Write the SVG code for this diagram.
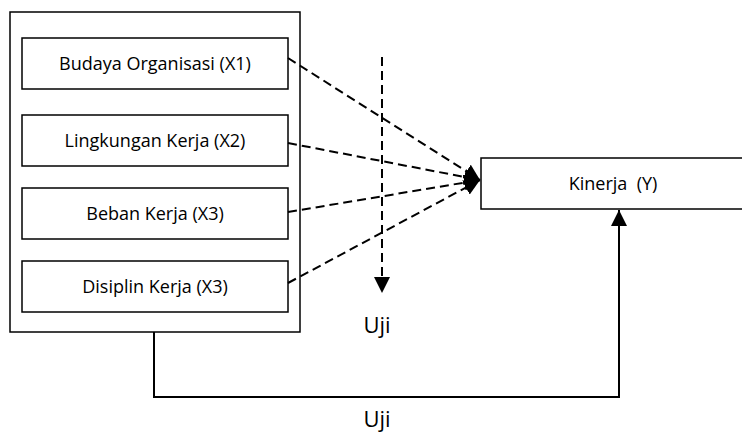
<svg xmlns="http://www.w3.org/2000/svg" width="742" height="433" viewBox="0 0 742 433">
<style>
.box{fill:#fff;stroke:#000;stroke-width:1.5}
.lbl{font-family:"Open Sans","Noto Sans",sans-serif;font-size:18px;fill:#000;text-anchor:middle}
.uji{font-family:"Open Sans","Noto Sans",sans-serif;font-size:22px;fill:#000;text-anchor:middle}
.dash{fill:none;stroke:#000;stroke-width:2;stroke-dasharray:9,5}
.solid{fill:none;stroke:#000;stroke-width:2}
</style>
<defs>
<marker id="ahb" viewBox="0 0 10 10" refX="10" refY="5" markerWidth="8" markerHeight="8" orient="auto">
<path d="M0,0 L10,5 L0,10 Z" fill="#000"/>
</marker>
</defs>
<g id="group-x">
<rect class="box" x="10" y="12" width="290" height="320"/>
</g>
<g id="node-x1">
<rect class="box" x="22" y="38" width="266" height="51"/>
<text class="lbl" x="155" y="70">Budaya Organisasi (X1)</text>
</g>
<g id="node-x2">
<rect class="box" x="22" y="115" width="266" height="51"/>
<text class="lbl" x="155" y="147">Lingkungan Kerja (X2)</text>
</g>
<g id="node-x3">
<rect class="box" x="22" y="188" width="266" height="51"/>
<text class="lbl" x="155" y="220">Beban Kerja (X3)</text>
</g>
<g id="node-x4">
<rect class="box" x="22" y="261" width="266" height="51"/>
<text class="lbl" x="155" y="293">Disiplin Kerja (X3)</text>
</g>
<g id="node-y">
<rect class="box" x="481" y="158" width="270" height="51"/>
<text class="lbl" x="613" y="190" xml:space="preserve" style="white-space:pre">Kinerja  (Y)</text>
</g>
<g id="connectors">
<line class="dash" x1="288" y1="58" x2="480" y2="180" marker-end="url(#ahb)"/>
<line class="dash" x1="288" y1="143" x2="480" y2="180" marker-end="url(#ahb)"/>
<line class="dash" x1="288" y1="212" x2="480" y2="180" marker-end="url(#ahb)"/>
<line class="dash" x1="288" y1="283" x2="480" y2="180" marker-end="url(#ahb)"/>
<line class="dash" x1="382" y1="57" x2="382" y2="293" marker-end="url(#ahb)"/>
<polyline class="solid" points="154,332 154,397 619,397 619,210" marker-end="url(#ahb)"/>
</g>
<text class="uji" x="377" y="333">Uji</text>
<text class="uji" x="377" y="427">Uji</text>
</svg>
